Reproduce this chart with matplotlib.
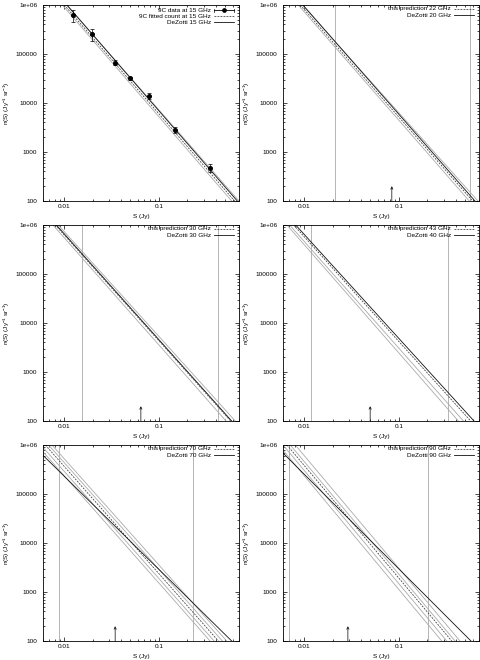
import matplotlib
matplotlib.use("Agg")
import matplotlib.pyplot as plt
from matplotlib.ticker import LogLocator, NullFormatter, FixedLocator, FixedFormatter

plt.rcParams['font.family'] = ['Liberation Sans', 'DejaVu Sans']
plt.rcParams['mathtext.fontset'] = 'custom'
plt.rcParams['mathtext.rm'] = 'Liberation Sans'
plt.rcParams['mathtext.it'] = 'Liberation Sans:italic'
FS = 4.6

# axis ranges and tick labels
S_RANGE = [0.006, 0.7]
N_RANGE = [100, 1e6]
x_ticks = [0.01, 0.1]
x_tick_labels = ['0.01', '0.1']
y_ticks = [100, 1000, 10000, 100000, 1e6]
y_tick_labels = ['100', '1000', '10000', '100000', '1e+06']

# every model curve is a power law; stored as the flux (Jy) where it
# reaches n = 1e6 and where it reaches n = 100
n_ends = [1e6, 100]

# 9C source counts at 15 GHz
s9c = [0.0123, 0.0198, 0.0347, 0.0498, 0.0785, 0.148, 0.343]
n9c = [6.2e5, 2.6e5, 6.6e4, 3.17e4, 1.4e4, 2.85e3, 470]
n9c_lo = [4.5e5, 1.8e5, 5.9e4, 2.9e4, 1.22e4, 2.45e3, 390]
n9c_hi = [7.8e5, 3.3e5, 7.4e4, 3.45e4, 1.6e4, 3.3e3, 560]
fit15_mid = [0.01007, 0.629]
fit15_bounds = [[0.00959, 0.586], [0.01065, 0.700]]
dezotti15 = [0.01073, 0.672]

# predictions at higher frequencies
freq_pred = [22, 30, 43, 70, 90]
freq_dz = [20, 30, 40, 70, 90]
pred_mid = [[0.00913, 0.600], [0.00809, 0.572], [0.00777, 0.572],
            [0.00635, 0.424], [0.00661, 0.361]]
pred_bounds = [
    [[0.00870, 0.553], [0.00958, 0.683]],
    [[0.00764, 0.511], [0.00870, 0.640]],
    [[0.00661, 0.424], [0.00705, 0.479]],
    [[0.00519, 0.3465], [0.00571, 0.382], [0.00688, 0.467], [0.00746, 0.519]],
    [[0.00540, 0.283], [0.00600, 0.3195], [0.00716, 0.391], [0.00809, 0.4415]],
]
dezotti = [[0.00974, 0.635], [0.00829, 0.586], [0.00816, 0.620],
           [0.00465, 0.586], [0.00494, 0.576]]
cut_lo = [0.0211, 0.0156, 0.0118, 0.00877, 0.0070]
cut_hi = [0.558, 0.424, 0.333, 0.2275, 0.2018]
arrow_s = [0.0843, 0.0646, 0.0498, 0.0346, 0.0290]
arrow_n = [100, 200]

C_DZ = '#111111'
C_MID = '#444444'
C_BND = '#aaaaaa'
C_CUT = '#a8a8a8'

fig = plt.figure(figsize=(4.8, 6.6), dpi=100)
W, H = 480.0, 660.0
col_left = [43, 283]
row_top = [5, 225, 445]
AW, AH = 196, 196


def make_axes(r, c):
    ax = fig.add_axes([col_left[c] / W, (H - row_top[r] - AH) / H, AW / W, AH / H])
    ax.set_xscale('log')
    ax.set_yscale('log')
    ax.set_xlim(*S_RANGE)
    ax.set_ylim(*N_RANGE)
    ax.xaxis.set_major_locator(FixedLocator(x_ticks))
    ax.xaxis.set_major_formatter(FixedFormatter(x_tick_labels))
    ax.xaxis.set_minor_locator(LogLocator(base=10, subs=range(2, 10), numticks=20))
    ax.xaxis.set_minor_formatter(NullFormatter())
    ax.yaxis.set_major_locator(FixedLocator(y_ticks))
    ax.yaxis.set_major_formatter(FixedFormatter(y_tick_labels))
    ax.yaxis.set_minor_locator(LogLocator(base=10, subs=range(2, 10), numticks=20))
    ax.yaxis.set_minor_formatter(NullFormatter())
    ax.tick_params(which='both', direction='in', top=True, right=True,
                   labelsize=FS, width=0.5, colors='black')
    ax.tick_params(which='major', length=3)
    ax.tick_params(which='minor', length=1.5)
    ax.tick_params(axis='y', which='major', pad=4)
    ax.tick_params(axis='x', which='major', pad=2.5)
    for sp in ax.spines.values():
        sp.set_linewidth(0.6)
    ax.set_xlabel('S (Jy)', fontsize=FS, labelpad=3.5)
    ax.set_ylabel('n(S) (Jy$^{-1}$ sr$^{-1}$)', fontsize=FS)
    ax.yaxis.set_label_coords(-0.16, 0.5)
    return ax


def key_row(ax, i, text, y0=0.98, dy=0.0316, **kw):
    y = y0 - i * dy
    ax.text(0.856, y, text, transform=ax.transAxes, ha='right', va='center',
            fontsize=FS)
    ax.plot([0.874, 0.977], [y, y], transform=ax.transAxes, **kw)
    return y


def power_law(ax, ends, **kw):
    ax.plot(ends, n_ends, **kw)


# --- 15 GHz panel -------------------------------------------------------
ax = make_axes(0, 0)
for b in fit15_bounds:
    power_law(ax, b, color=C_BND, lw=0.6)
power_law(ax, fit15_mid, color=C_MID, lw=0.6, dashes=(2.2, 1.4))
power_law(ax, dezotti15, color=C_DZ, lw=0.6)
yerr = [[n - lo for n, lo in zip(n9c, n9c_lo)], [hi - n for n, hi in zip(n9c, n9c_hi)]]
ax.errorbar(s9c, n9c, yerr=yerr, fmt='o', color='black', ms=2.6, elinewidth=0.5,
            capsize=1.2, capthick=0.5, zorder=5)
y = key_row(ax, 0, '9C data at 15 GHz', y0=0.974, color='black', lw=0.6)
ax.plot([0.925], [y], 'o', color='black', ms=2.4, transform=ax.transAxes)
for xe in (0.874, 0.977):
    ax.plot([xe, xe], [y - 0.008, y + 0.008], color='black', lw=0.5,
            transform=ax.transAxes)
key_row(ax, 1, '9C fitted count at 15 GHz', y0=0.974, color=C_MID, lw=0.6,
        dashes=(2.2, 1.4))
key_row(ax, 2, 'DeZotti 15 GHz', y0=0.974, color=C_DZ, lw=0.6)

# --- prediction panels ------------------------------------------------------
slots = [(0, 1), (1, 0), (1, 1), (2, 0), (2, 1)]
for k, (r, c) in enumerate(slots):
    ax = make_axes(r, c)
    ax.axvline(cut_lo[k], color=C_CUT, lw=0.6)
    ax.axvline(cut_hi[k], color=C_CUT, lw=0.6)
    for b in pred_bounds[k]:
        power_law(ax, b, color=C_BND, lw=0.6)
    power_law(ax, pred_mid[k], color=C_MID, lw=0.6, dashes=(2.2, 1.4))
    power_law(ax, dezotti[k], color=C_DZ, lw=0.6)
    ax.annotate('', xy=(arrow_s[k], arrow_n[1]), xytext=(arrow_s[k], arrow_n[0]),
                arrowprops=dict(arrowstyle='->', lw=0.5, color='black',
                                shrinkA=0, shrinkB=0, mutation_scale=4))
    key_row(ax, 0, f'this prediction {freq_pred[k]} GHz', color=C_MID, lw=0.6,
            dashes=(2.2, 1.4))
    key_row(ax, 1, f'DeZotti {freq_dz[k]} GHz', color=C_DZ, lw=0.6)

fig.savefig('out.png', dpi=100, facecolor='white')
